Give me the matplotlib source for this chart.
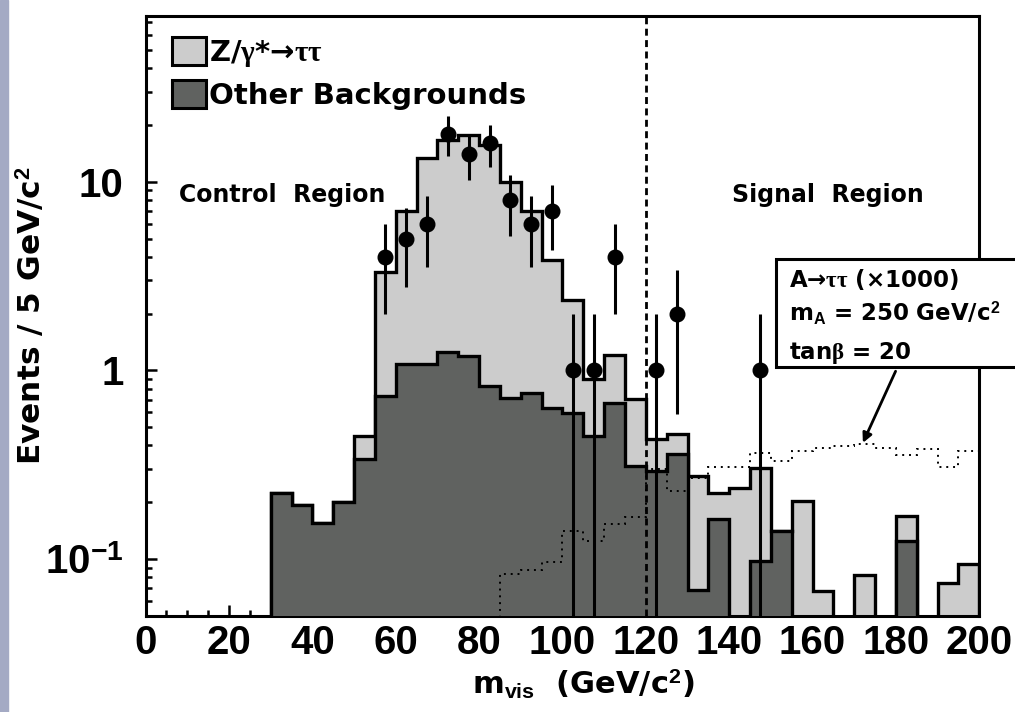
import numpy as np
import matplotlib
matplotlib.use("Agg")
import matplotlib.pyplot as plt
from matplotlib.patches import Rectangle, Patch
from matplotlib.ticker import MultipleLocator, FixedLocator, FixedFormatter

plt.rcParams['font.family'] = 'Liberation Sans'
plt.rcParams['font.weight'] = 'bold'
plt.rcParams['mathtext.fontset'] = 'custom'
plt.rcParams['mathtext.rm'] = 'Liberation Sans:bold'
plt.rcParams['mathtext.bf'] = 'Liberation Sans:bold'
plt.rcParams['mathtext.it'] = 'Liberation Serif'

# m_vis histogram, 5 GeV/c^2 bins from 0 to 200
edges = np.arange(0, 205, 5)
other = [0, 0, 0, 0, 0, 0,
         0.223, 0.194, 0.155, 0.200, 0.339, 0.727, 1.076, 1.076, 1.25, 1.19,
         0.822, 0.715, 0.76, 0.632, 0.596, 0.448, 0.673, 0.312, 0.294, 0.361,
         0.068, 0.163, 0, 0.098, 0.141, 0, 0, 0, 0, 0,
         0.125, 0, 0, 0]
# top of the stack (Z/gamma* -> tautau + other)
total = [0, 0, 0, 0, 0, 0,
         0.223, 0.194, 0.155, 0.200, 0.446, 3.34, 6.96, 13.3, 16.7, 17.8,
         15.6, 9.93, 6.96, 3.84, 2.36, 0.903, 1.20, 0.707, 0.430, 0.461,
         0.276, 0.224, 0.237, 0.303, 0.141, 0.204, 0.0676, 0, 0.0819, 0,
         0.169, 0, 0.0749, 0.0937]

# A -> tautau (x1000), from 85 to 200
sig_edges = np.arange(85, 205, 5)
signal = [0.083, 0.087, 0.096, 0.141, 0.125, 0.153, 0.167, 0.300, 0.230, 0.27,
          0.306, 0.306, 0.365, 0.332, 0.375, 0.388, 0.396, 0.408, 0.388, 0.356,
          0.383, 0.306, 0.373]

# data points
data_x = [57.5, 62.5, 67.5, 72.5, 77.5, 82.5, 87.5, 92.5, 97.5, 102.5,
          107.5, 112.5, 122.5, 127.5, 147.5]
data_n = [4, 5, 6, 18, 14, 16, 8, 6, 7, 1, 1, 4, 1, 2, 1]

light = '#cccccc'
dark = '#606260'
floor = 1e-4

fig = plt.figure(figsize=(10.15, 7.12), dpi=100)
fig.patches.append(Rectangle((0, 0), 8 / 1015, 1, transform=fig.transFigure,
                             color='#a4aac4', zorder=0))
ax = fig.add_axes([0.1435, 0.1353, 0.8213, 0.8427])
ax.set_yscale('log')

tot = np.where(np.array(total) > 0, total, floor)
oth = np.where(np.array(other) > 0, other, floor)
ax.stairs(tot, edges, baseline=floor, fill=True, facecolor=light,
          edgecolor='black', lw=2.4, zorder=2)
ax.stairs(oth, edges, baseline=floor, fill=True, facecolor=dark,
          edgecolor='black', lw=2.4, zorder=3)
ax.stairs(signal, sig_edges, baseline=floor, fill=False, color='black',
          lw=1.4, linestyle=(0, (1, 2.5)), zorder=4)

n = np.array(data_n, dtype=float)
err = np.sqrt(n)
lo = np.minimum(err, n - 1e-3)
ax.errorbar(data_x, n, yerr=[lo, err], fmt='o', color='black', ms=10.5,
            elinewidth=2.2, capsize=0, zorder=5)

ax.axvline(120, color='black', lw=2, ls=(0, (2.5, 1.6)), zorder=4)

ax.set_xlim(0, 200)
ax.set_ylim(0.05, 76)

ax.xaxis.set_major_locator(MultipleLocator(20))
ax.xaxis.set_minor_locator(MultipleLocator(5))
ax.yaxis.set_major_locator(FixedLocator([0.1, 1, 10]))
ax.yaxis.set_major_formatter(FixedFormatter([r'10$^{\mathbf{-1}}$', '1', '10']))
ax.tick_params(which='both', direction='in', top=False, right=False, width=1.8)
ax.tick_params(which='major', length=8, labelsize=29)
ax.tick_params(which='minor', length=4.3)
ax.tick_params(axis='x', pad=6)
ax.tick_params(axis='y', pad=16)
for s in ax.spines.values():
    s.set_linewidth(2.2)

txt = dict(family='DejaVu Sans', weight='bold')
ax.set_ylabel(r'Events / 5 GeV/c$^\mathbf{2}$', fontsize=22.5, **txt)
ax.yaxis.set_label_coords(-0.118, 0.5)
ax.set_xlabel(r'm$_\mathbf{vis}$  (GeV/c$^\mathbf{2}$)', fontsize=22, va='top', **txt)
ax.xaxis.set_label_coords(0.525, -0.0855)

handles = [Patch(facecolor=light, edgecolor='black', lw=2.2,
                 label=r'Z/$\gamma$*→$\tau\tau$'),
           Patch(facecolor=dark, edgecolor='black', lw=2.2,
                 label='Other Backgrounds')]
ax.legend(handles=handles, loc='upper left', bbox_to_anchor=(0.032, 0.965),
          frameon=False, prop=dict(size=21, **txt), handlelength=1.15,
          handleheight=1.1, handletextpad=0.1, labelspacing=0.4,
          borderaxespad=0, borderpad=0)

tr = ax.get_xaxis_transform()
ax.text(32.7, 0.701, 'Control  Region', transform=tr, ha='center', va='center',
        fontsize=17, **txt)
ax.text(163.7, 0.701, 'Signal  Region', transform=tr, ha='center', va='center',
        fontsize=17, **txt)

ax.add_patch(Rectangle((0.756, 0.415), 0.3, 0.179, transform=ax.transAxes,
                       facecolor='white', edgecolor='black', lw=2.2,
                       clip_on=False, zorder=6))
box_lines = [r'A→$\tau\tau$ (×1000)',
             r'm$_\mathbf{A}$ = 250 GeV/c$^\mathbf{2}$',
             r'tan$\beta$ = 20']
for yy, s in zip([0.547, 0.49, 0.427], box_lines):
    ax.text(0.772, yy, s, transform=ax.transAxes, ha='left', va='baseline',
            fontsize=16.5, clip_on=False, zorder=7, **txt)
ax.annotate('', xy=(171.8, 0.40), xytext=(180.2, 1.02),
            arrowprops=dict(arrowstyle='-|>', color='black', lw=2,
                            mutation_scale=14), zorder=7)

fig.savefig('out.png', dpi=100)
